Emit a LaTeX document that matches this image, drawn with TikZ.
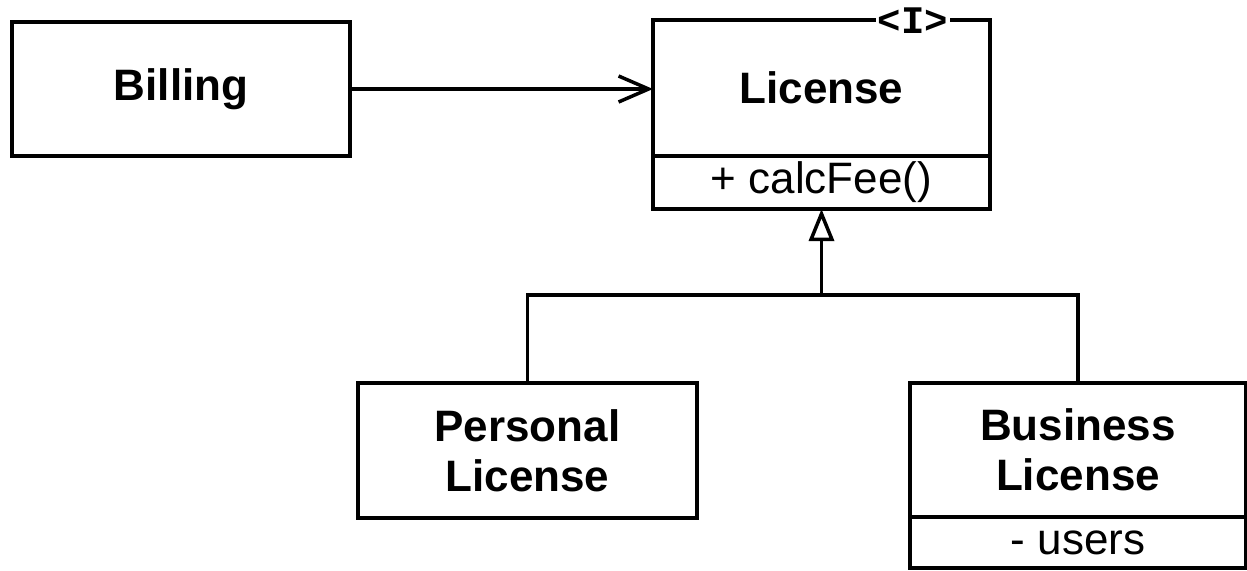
\documentclass[tikz,border=0pt]{standalone}
\usepackage{fontspec}
\setmainfont{Liberation Sans}
\newfontfamily\stereofont{Liberation Mono}
\usetikzlibrary{arrows.meta}

\begin{document}
\begin{tikzpicture}[x=1pt,y=-1pt,
    line width=3.5pt,
    classbox/.style={draw, rectangle, minimum width=337pt, inner sep=0pt, outer sep=0pt,
      align=center, font=\fontsize{44}{50}\selectfont\bfseries},
    membox/.style={draw, rectangle, minimum width=337pt, minimum height=53pt,
      inner sep=0pt, outer sep=0pt, font=\fontsize{44}{50}\selectfont},
    inherit/.style={-{Triangle[open,length=32pt,width=25pt,line width=3.5pt]}},
    uses/.style={-{Straight Barb[length=30pt,width=26pt,line width=3.5pt]}}]
  \useasboundingbox (0,0) rectangle (1247,570);

  % classes
  \node[classbox, minimum width=338pt, minimum height=134pt] (bill) at (181,89) {Billing};
  \node[classbox, minimum height=136pt] (lic) at (821.5,88) {License};
  \node[membox, anchor=north] (licop) at (lic.south) {+ calcFee()};
  \node[fill=white, inner sep=2pt, font=\fontsize{39}{39}\stereofont\bfseries]
    (stereo) at (913,21) {<I>};

  \node[classbox, minimum width=339pt, minimum height=135pt] (pers) at (527.5,450.5)
    {Personal\\License};
  \node[classbox, minimum width=336pt, minimum height=134pt] (bus) at (1078,450)
    {Business\\License};
  \node[membox, minimum width=336pt, minimum height=51pt, anchor=north] (busattr)
    at (bus.south) {- users};

  % connectors
  \draw[uses] (bill.east) -- (bill.east -| lic.west);
  \coordinate (join) at (821.5,295);
  \draw (pers.north) |- (join);
  \draw (bus.north) |- (join);
  \draw[inherit] (join) -- (licop.south);
\end{tikzpicture}
\end{document}
